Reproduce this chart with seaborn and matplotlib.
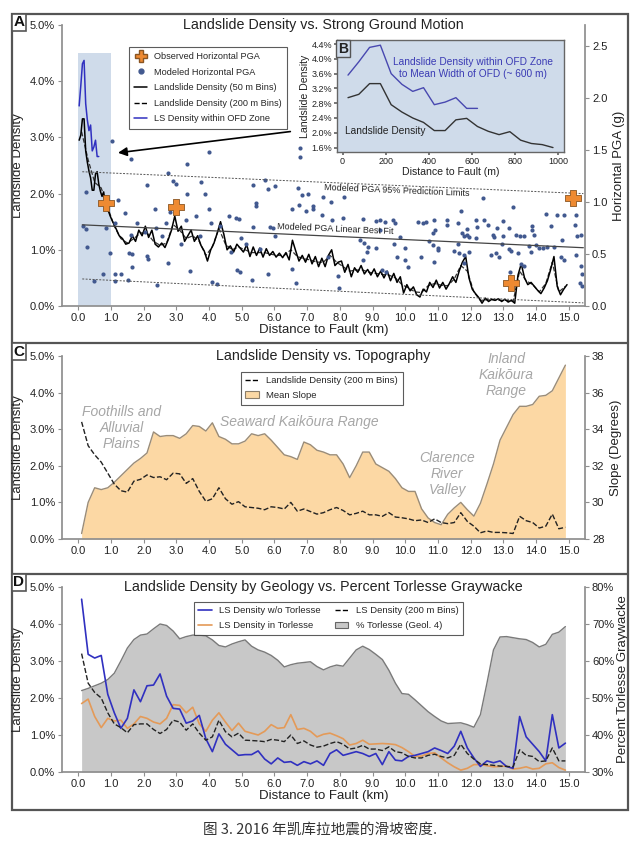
import numpy as np
import matplotlib
matplotlib.use('Agg')
import matplotlib.pyplot as plt
from matplotlib.lines import Line2D
from matplotlib.patches import Patch, Rectangle
from matplotlib.ticker import FuncFormatter
import seaborn as sns

sns.set_theme(style='ticks')
plt.rcParams['font.family'] = ['Liberation Sans', 'Noto Sans CJK SC', 'DejaVu Sans']

# ---------------- data ----------------
# 200 m bin centres (km)
bins_200 = np.round(np.arange(0.1, 15.0, 0.2), 1)

# landslide density, 200 m bins (%) as drawn in panels A, C and D
ls_200_a = [3.1, 2.6, 2.2, 2.1, 1.75, 1.42, 1.2, 1.12, 1.2, 1.3,
            1.3, 1.15, 1.08, 1.12, 1.45, 1.35, 1.2, 1.25, 1.15, 0.9,
            1.05, 1.38, 1.1, 1.0, 1.05, 1.0, 0.95, 0.95, 0.95, 0.92,
            0.9, 0.9, 1.0, 0.88, 0.84, 0.82, 0.78, 0.78, 0.9, 0.78,
            0.7, 0.62, 0.64, 0.64, 0.6, 0.58, 0.56, 0.55, 0.5, 0.38,
            0.32, 0.25, 0.24, 0.36, 0.4, 0.37, 0.36, 0.48, 0.72, 0.62,
            0.25, 0.1, 0.11, 0.11, 0.1, 0.1, 0.08, 0.62, 0.45, 0.38,
            0.25, 0.4, 0.78, 0.25, 0.35]
ls_200_c = [3.2, 2.55, 2.3, 2.1, 1.8, 1.5, 1.32, 1.28, 1.58, 1.63,
            1.75, 1.68, 1.70, 1.62, 1.80, 1.78, 1.52, 1.65, 1.30, 1.03,
            1.10, 1.40, 1.10, 0.95, 1.02, 0.88, 0.86, 0.84, 0.80, 0.88,
            0.86, 0.82, 1.00, 0.76, 0.82, 0.75, 0.68, 0.72, 0.80, 0.86,
            0.78, 0.66, 0.70, 0.76, 0.66, 0.66, 0.62, 0.72, 0.60, 0.58,
            0.55, 0.50, 0.52, 0.45, 0.55, 0.45, 0.42, 0.45, 0.72, 0.48,
            0.35, 0.17, 0.22, 0.18, 0.18, 0.17, 0.15, 0.62, 0.50, 0.45,
            0.30, 0.35, 0.68, 0.28, 0.32]
ls_200_d = [3.2, 2.4, 2.15, 2.0, 1.6, 1.3, 1.2, 1.06, 1.28, 1.3,
            1.3, 1.15, 1.04, 1.15, 1.4, 1.35, 1.13, 1.3, 1.05, 0.86,
            0.95, 1.4, 1.09, 0.95, 1.05, 0.86, 0.85, 0.84, 0.82, 0.88,
            0.86, 0.82, 1.0, 0.77, 0.84, 0.73, 0.67, 0.7, 0.77, 0.82,
            0.75, 0.62, 0.65, 0.72, 0.62, 0.62, 0.58, 0.68, 0.55, 0.52,
            0.42, 0.38, 0.38, 0.45, 0.48, 0.42, 0.38, 0.45, 0.75, 0.5,
            0.35, 0.22, 0.2, 0.18, 0.16, 0.15, 0.14, 0.6, 0.45, 0.42,
            0.28, 0.3, 0.65, 0.3, 0.3]

# landslide density, 50 m bins, first km (from inset B)
inset_m = [25, 75, 125, 175, 225, 275, 325, 375, 425, 475,
           525, 575, 625, 675, 725, 775, 825, 875, 925, 975]
ls_50_near = [2.95, 3.04, 3.33, 3.33, 2.76, 2.56, 2.40, 2.28, 2.06, 2.06,
              2.35, 2.39, 2.17, 2.04, 1.95, 2.03, 1.80, 1.71, 1.68, 1.60]
# landslide density within OFD zone (%)
ofd_m = [25, 75, 125, 175, 225, 275, 325, 375, 425, 475, 525, 575, 625]
ls_ofd = [3.56, 3.92, 4.31, 4.37, 3.60, 3.31, 3.12, 3.22, 2.76, 2.83, 2.95, 2.66, 2.66]

# landslide density, 50 m bins beyond 1 km (read every 0.1 km)
ls_50_far = [1.5, 1.38, 1.25, 1.2, 1.1, 1.12, 1.25, 1.15, 1.35, 1.25,
             1.42, 1.22, 1.35, 1.1, 1.05, 1.12, 1.04, 1.18, 1.35, 1.6,
             1.33, 1.42, 1.15, 1.25, 1.35, 1.15, 1.25, 1.08, 0.98, 0.8,
             1.0, 1.12, 1.3, 1.5, 1.28, 1.0, 1.07, 0.96, 1.1, 1.03,
             0.96, 1.09, 0.88, 1.05, 0.9, 1.03, 0.87, 1.02, 0.9, 0.97,
             0.87, 0.94, 0.86, 0.95, 0.82, 1.17, 0.98, 0.8, 0.9, 0.78,
             0.92, 0.75, 0.88, 0.7, 0.85, 0.7, 0.9, 1.0, 0.72, 0.78,
             0.8, 0.6, 0.74, 0.52, 0.68, 0.6, 0.72, 0.57, 0.65, 0.55,
             0.66, 0.52, 0.62, 0.5, 0.62, 0.45, 0.58, 0.42, 0.52, 0.23,
             0.38, 0.27, 0.34, 0.2, 0.16, 0.3, 0.25, 0.42, 0.33, 0.46,
             0.32, 0.42, 0.3, 0.4, 0.52, 0.42, 0.62, 0.78, 0.88, 0.5,
             0.3, 0.22, 0.15, 0.05, 0.14, 0.08, 0.12, 0.1, 0.13, 0.08,
             0.12, 0.07, 0.1, 0.05, 0.55, 0.75, 0.5, 0.38, 0.42, 0.35,
             0.28, 0.22, 0.32, 0.45, 0.65, 0.88, 0.35, 0.2, 0.3, 0.38]
far_km = np.round(1.05 + 0.1 * np.arange(len(ls_50_far)), 2)
km_50 = np.concatenate([np.array(inset_m) / 1000, far_km])
ls_50 = np.concatenate([ls_50_near, ls_50_far])

# modeled horizontal PGA (g)
dot_km = [1.04, 1.6, 4.0, 3.31, 2.75, 2.9, 3.0, 2.09, 3.76, 3.32, 3.87, 0.24, 1.2, 2.35,
          1.43, 2.79, 4.0, 3.3, 3.6, 4.05, 4.6, 4.81, 4.91, 0.15, 0.24, 0.84, 1.11, 1.8,
          2.37, 2.67, 2.57, 3.13, 3.72, 4.32, 1.6, 2.04, 0.25, 1.55, 1.65, 0.97, 2.09, 2.14,
          1.63, 2.74, 3.41, 0.76, 1.11, 1.32, 0.48, 1.12, 1.53, 2.42, 4.1, 4.25, 4.86, 4.94,
          4.66, 4.99,
          6.78, 6.78, 5.71, 5.35, 5.81, 6.01, 6.71, 6.85, 7.03, 7.49, 7.73, 8.13, 5.43, 5.43,
          6.76, 6.55, 7.19, 7.19, 6.96, 7.44, 7.75, 8.11, 8.72, 9.1, 9.22, 9.38, 9.64, 9.68,
          5.35, 5.86, 5.94, 6.03, 9.22, 9.83, 8.61, 8.75, 8.87, 9.12, 8.82, 9.66, 10.0, 9.76,
          9.99, 10.07, 8.72, 7.65, 7.95, 6.55, 5.79, 5.3, 6.66, 9.28, 9.4, 7.97, 5.13, 5.57,
          12.37, 13.3, 11.7, 14.3, 14.64, 14.86, 15.21, 10.89, 11.29, 12.16, 12.4, 12.98,
          10.4, 10.53, 10.63, 11.29, 11.6, 11.89, 12.21, 12.54, 12.82, 13.18, 13.89, 14.45,
          15.19, 10.9, 10.84, 11.75, 11.9, 11.8, 11.96, 12.16, 12.69, 12.72, 13.0, 13.38,
          13.52, 13.64, 13.89, 13.94, 15.27, 15.37, 10.73, 10.84, 10.99, 10.99, 11.6, 12.95,
          13.18, 13.25, 13.79, 14.0, 14.1, 14.2, 14.35, 14.56, 14.81, 11.5, 11.65, 11.8,
          11.96, 12.62, 12.77, 12.87, 13.44, 13.84, 14.76, 14.86, 15.22, 10.48, 10.87, 11.8,
          13.54, 13.62, 15.37, 15.42, 13.21, 15.35, 15.42]
dot_pga = [1.59, 1.41, 1.48, 1.36, 1.28, 1.20, 1.17, 1.16, 1.19, 1.08, 1.08, 1.10, 1.02, 0.93,
           0.89, 0.90, 0.93, 0.83, 0.86, 0.80, 0.86, 0.85, 0.84, 0.77, 0.74, 0.75, 0.80, 0.80,
           0.75, 0.80, 0.67, 0.60, 0.67, 0.77, 0.68, 0.71, 0.57, 0.51, 0.50, 0.51, 0.48, 0.45,
           0.37, 0.41, 0.34, 0.31, 0.31, 0.31, 0.24, 0.24, 0.25, 0.20, 0.23, 0.21, 0.35, 0.33,
           0.52, 0.65,
           1.52, 1.43, 1.21, 1.16, 1.12, 1.15, 1.13, 1.07, 1.08, 1.05, 1.00, 1.05, 0.99, 0.96,
           0.97, 0.93, 0.96, 0.93, 0.91, 0.875, 0.83, 0.85, 0.84, 0.82, 0.83, 0.81, 0.83, 0.80,
           0.76, 0.76, 0.75, 0.67, 0.73, 0.66, 0.63, 0.61, 0.57, 0.56, 0.52, 0.60, 0.56, 0.47,
           0.44, 0.37, 0.44, 0.47, 0.29, 0.36, 0.31, 0.25, 0.22, 0.35, 0.33, 0.17, 0.60, 0.55,
           1.04, 0.95, 0.91, 0.88, 0.87, 0.87, 0.87, 0.83, 0.83, 0.83, 0.83, 0.82,
           0.81, 0.80, 0.81, 0.78, 0.80, 0.74, 0.76, 0.78, 0.75, 0.75, 0.77, 0.77,
           0.78, 0.73, 0.70, 0.70, 0.68, 0.67, 0.66, 0.65, 0.68, 0.66, 0.67, 0.68,
           0.67, 0.67, 0.73, 0.68, 0.67, 0.68, 0.62, 0.59, 0.56, 0.54, 0.60, 0.60,
           0.55, 0.53, 0.58, 0.59, 0.56, 0.56, 0.57, 0.57, 0.63, 0.53, 0.51, 0.49,
           0.52, 0.49, 0.51, 0.47, 0.51, 0.52, 0.47, 0.44, 0.49, 0.47, 0.42, 0.41,
           0.40, 0.38, 0.38, 0.31, 0.33, 0.22, 0.19]
# observed horizontal PGA (g)
obs_km = [0.84, 2.98, 13.23, 15.12]
obs_pga = [0.99, 0.95, 0.22, 1.04]
# modeled PGA fit and 95% prediction limits (line end points)
fit_km = [0.12, 15.45]
pga_upper = [1.29, 1.08]
pga_fit = [0.78, 0.56]
pga_lower = [0.26, 0.03]

# mean slope (degrees), 200 m bins
slope_deg = [28.3, 30.0, 30.8, 30.7, 30.8, 31.1, 31.45, 31.8, 32.15, 32.4,
             32.7, 33.85, 33.6, 33.65, 33.65, 33.5, 33.75, 34.2, 34.15, 33.9,
             34.35, 33.6, 33.45, 33.2, 33.2, 33.35, 33.75, 33.65, 33.75, 33.4,
             33.0, 32.6, 32.5, 32.35, 33.3, 33.15, 32.85, 32.75, 32.6, 32.6,
             32.1, 31.35, 32.0, 32.75, 32.75, 32.1, 31.9, 31.7, 31.3, 30.8,
             30.6, 30.6, 29.65, 29.15, 28.9, 28.78, 29.35, 29.7, 30.0, 29.6,
             29.25, 29.95, 31.0, 32.1, 33.4, 34.1, 34.8, 35.25, 35.25, 35.35,
             35.8, 35.85, 36.1, 36.8, 37.5]

# percent Torlesse graywacke, 200 m bins
torlesse_pct = [52.0, 52.6, 53.3, 54.0, 55.0, 56.7, 60.0, 63.5, 65.8, 67.0,
                67.3, 68.7, 70.0, 69.6, 68.1, 66.0, 66.6, 67.0, 67.0, 66.8,
                65.7, 64.2, 63.8, 64.6, 65.2, 65.7, 64.0, 63.0, 62.4, 61.5,
                60.2, 58.4, 59.0, 59.4, 59.6, 59.8, 58.5, 57.6, 58.4, 58.9,
                58.6, 60.8, 63.0, 64.0, 63.1, 61.8, 60.4, 57.5, 54.0, 51.2,
                51.0, 49.5, 47.9, 46.3, 45.0, 43.8, 43.1, 43.2, 43.3, 42.8,
                42.1, 45.5, 54.0, 63.0, 66.5, 66.6, 66.3, 66.0, 65.8, 65.0,
                63.8, 64.5, 67.2, 67.8, 69.3]
# landslide density without / in Torlesse (%)
ls_wo_torlesse = [4.67, 3.18, 3.08, 3.15, 2.10, 1.60, 1.18, 1.45, 2.22, 1.90,
                  2.33, 2.35, 2.65, 2.05, 1.72, 1.70, 1.32, 1.38, 1.53, 0.90,
                  0.55, 1.03, 0.75, 0.60, 0.45, 0.47, 0.47, 0.57, 0.35, 0.22,
                  0.38, 0.26, 0.28, 0.18, 0.28, 0.22, 0.30, 0.18, 0.50, 0.60,
                  0.45, 0.50, 0.55, 0.50, 0.42, 0.50, 0.20, 0.55, 0.32, 0.30,
                  0.42, 0.45, 0.50, 0.55, 0.65, 0.58, 0.50, 0.70, 1.10, 0.65,
                  0.38, 0.15, 0.30, 0.25, 0.30, 0.15, 0.10, 1.50, 0.95, 0.75,
                  0.55, 0.30, 1.55, 0.65, 0.78]
ls_in_torlesse = [1.85, 1.97, 1.50, 1.20, 1.45, 1.38, 1.40, 1.18, 1.30, 1.50,
                  1.45, 1.35, 1.30, 1.45, 1.82, 1.80, 1.60, 1.75, 1.30, 1.10,
                  1.40, 1.60, 1.35, 1.12, 1.32, 1.10, 1.05, 1.00, 1.10, 1.28,
                  1.18, 1.20, 1.55, 1.15, 1.18, 1.10, 0.95, 1.02, 1.05, 0.98,
                  0.90, 0.73, 0.77, 0.86, 0.75, 0.76, 0.77, 0.76, 0.74, 0.66,
                  0.55, 0.42, 0.43, 0.50, 0.52, 0.38, 0.25, 0.14, 0.05, 0.10,
                  0.20, 0.20, 0.17, 0.14, 0.15, 0.16, 0.08, 0.10, 0.14, 0.08,
                  0.10, 0.22, 0.25, 0.12, 0.05]

km_ticks = np.arange(0, 16, 1)

# ---------------- colours ----------------
SPINE = '#8f8f8f'
OFD_BG = '#cfdbea'
DOT = '#42598f'
ORANGE = '#ee8a32'
BLUE = '#3030c0'
PEACH = '#fcd8a4'
GRAYFILL = '#c8c8c8'
NOTE = '#a6a6a6'
FRAME = '#555555'

W, H = 641, 851
fig = plt.figure(figsize=(W / 100, H / 100), dpi=100)


def px_axes(left, top, right, bottom):
    return fig.add_axes([left / W, 1 - bottom / H, (right - left) / W, (bottom - top) / H])


def style(ax, twin):
    ax.spines['top'].set_visible(False)
    ax.spines['right'].set_visible(False)
    ax.spines['left'].set_color(SPINE)
    ax.spines['bottom'].set_color(SPINE)
    twin.spines['top'].set_visible(False)
    twin.spines['left'].set_visible(False)
    twin.spines['bottom'].set_visible(False)
    twin.spines['right'].set_color(SPINE)
    for a in (ax, twin):
        a.tick_params(colors=SPINE, labelcolor='#222222', labelsize=8, length=3,
                      width=0.8, pad=2, direction='out')
    ax.set_xlim(-0.5, 15.5)
    ax.set_xticks(km_ticks)
    ax.set_xticklabels([f'{k:.1f}' for k in km_ticks])
    ax.set_ylim(0, 5)
    ax.set_yticks(np.arange(0, 5.1, 1))
    ax.yaxis.set_major_formatter(FuncFormatter(lambda v, p: f'{v:.1f}%'))
    ax.set_ylabel('Landslide Density', fontsize=9.5, labelpad=4, color='#222222')
    ax.grid(False)
    twin.grid(False)


# ---------------- panel A ----------------
axA = px_axes(62, 25, 585, 306)
axA2 = axA.twinx()
style(axA, axA2)
axA.fill_between([0, 1], 0, 4.5, color=OFD_BG, lw=0)
sns.lineplot(x=bins_200, y=ls_200_a, ax=axA, color='#333333', lw=0.9, linestyle='--')
sns.lineplot(x=km_50, y=ls_50, ax=axA, color='black', lw=1.1)
sns.lineplot(x=np.array(ofd_m) / 1000, y=ls_ofd, ax=axA, color=BLUE, lw=1.1)
axA.set_xlabel('Distance to Fault (km)', fontsize=9.5, labelpad=1, color='#222222')

sns.scatterplot(x=dot_km, y=dot_pga, ax=axA2, color=DOT, s=9, linewidth=0)
for yy in (pga_upper, pga_lower):
    sns.lineplot(x=fit_km, y=yy, ax=axA2, color='#555555', lw=0.7, linestyle=(0, (2, 1.5)))
sns.lineplot(x=fit_km, y=pga_fit, ax=axA2, color='#444444', lw=0.9)
sns.scatterplot(x=obs_km, y=obs_pga, ax=axA2, marker='P', s=120, color=ORANGE,
                edgecolor='#8a5522', linewidth=0.6, zorder=5)
axA2.set_ylim(0, 2.7)
axA2.set_yticks([0, 0.5, 1.0, 1.5, 2.0, 2.5])
axA2.yaxis.set_major_formatter(FuncFormatter(lambda v, p: f'{v:.1f}'))
axA2.set_ylabel('Horizontal PGA (g)', fontsize=9.5, labelpad=4, color='#222222')
axA2.text(9.75, 1.105, 'Modeled PGA 95% Prediction Limits', fontsize=6.5, rotation=-2.4,
          ha='center', va='center', color='#222222')
axA2.text(7.86, 0.735, 'Modeled PGA Linear Best Fit', fontsize=6.5, rotation=-2.5,
          ha='center', va='center', color='#222222')
axA2.annotate('', xy=(1.13, 2.72), xycoords=axA.transData, xytext=(6.57, 3.11),
              textcoords=axA.transData,
              arrowprops=dict(arrowstyle='-|>', color='black', lw=1.2, mutation_scale=13))
axA.text(0.5, 1.0, 'Landslide Density vs. Strong Ground Motion', transform=axA.transAxes,
         ha='center', va='center', fontsize=10.3, color='#222222')

handlesA = [Line2D([], [], marker='P', ls='', color=ORANGE, mec='#8a5522', ms=8),
            Line2D([], [], marker='o', ls='', color=DOT, ms=3.5),
            Line2D([], [], color='black', lw=1.1),
            Line2D([], [], color='black', lw=1.0, ls='--'),
            Line2D([], [], color=BLUE, lw=1.1)]
labelsA = ['Observed Horizontal PGA', 'Modeled Horizontal PGA', 'Landslide Density (50 m Bins)',
           'Landslide Density (200 m Bins)', 'LS Density within OFD Zone']
legA = axA2.legend(handlesA, labelsA, loc='upper left', bbox_to_anchor=(124 / W, 1 - 42 / H),
                   bbox_transform=fig.transFigure, fontsize=6.6, frameon=True, fancybox=False,
                   edgecolor='#333333', handlelength=1.4, labelspacing=0.72, borderpad=0.6)
legA.get_frame().set_linewidth(0.8)

# inset B
axB = px_axes(337, 40, 564, 152)
axB.set_facecolor(OFD_BG)
sns.lineplot(x=ofd_m, y=ls_ofd, ax=axB, color='#4848b0', lw=1.0)
sns.lineplot(x=inset_m, y=ls_50_near, ax=axB, color='#333333', lw=1.0)
axB.set_xlim(-26, 1026)
axB.set_ylim(1.48, 4.51)
axB.set_xticks(np.arange(0, 1001, 200))
axB.set_yticks(np.arange(1.6, 4.5, 0.4))
axB.yaxis.set_major_formatter(FuncFormatter(lambda v, p: f'{v:.1f}%'))
for s in axB.spines.values():
    s.set_color('#666666')
    s.set_linewidth(1.0)
axB.tick_params(colors='#666666', labelcolor='#222222', labelsize=6.5, length=2, pad=1.5)
axB.set_xlabel('Distance to Fault (m)', fontsize=7.6, labelpad=1, color='#222222')
axB.set_ylabel('Landslide Density', fontsize=7.6, labelpad=1, color='#222222')
axB.grid(False)
axB.text(604, 3.75, 'Landslide Density within OFD Zone\nto Mean Width of OFD (~ 600 m)',
         ha='center', va='center', fontsize=7.3, color='#3a3ab4')
axB.text(10, 2.06, 'Landslide Density', ha='left', va='center', fontsize=7.3, color='#222222')
axB.text(0.004, 0.985, 'B', transform=axB.transAxes, ha='left', va='top', fontsize=10,
         fontweight='bold', color='#222222',
         bbox=dict(boxstyle='square,pad=0.12', fc=OFD_BG, ec='#555555', lw=1.0))

# ---------------- panel C ----------------
axC = px_axes(62, 356, 585, 539)
axC2 = axC.twinx()
style(axC, axC2)
axC2.fill_between(bins_200, 28, slope_deg, color=PEACH, lw=0)
sns.lineplot(x=bins_200, y=slope_deg, ax=axC2, color='#9a8c78', lw=1.0)
axC2.set_ylim(28, 38)
axC2.set_yticks(np.arange(28, 39, 2))
axC2.set_ylabel('Slope (Degrees)', fontsize=9.5, labelpad=4, color='#222222')
axC.set_zorder(axC2.get_zorder() + 1)
axC.patch.set_visible(False)
sns.lineplot(x=bins_200, y=ls_200_c, ax=axC, color='#222222', lw=1.0, linestyle='--')
axC.set_xlabel('')
axC.text(0.5, 1.0, 'Landslide Density vs. Topography', transform=axC.transAxes,
         ha='center', va='center', fontsize=10.3, color='#222222')
note = dict(fontsize=10, style='italic', color=NOTE, ha='center', va='center', linespacing=1.15)
axC.text(1.32, 3.03, 'Foothills and\nAlluvial\nPlains', **note)
axC.text(6.76, 3.2, 'Seaward Kaikōura Range', **note)
axC.text(11.28, 1.78, 'Clarence\nRiver\nValley', **note)
axC.text(13.1, 4.48, 'Inland\nKaikōura\nRange', **note)
legC = axC.legend([Line2D([], [], color='black', lw=1.0, ls='--'),
                   Patch(fc=PEACH, ec='#8c7e6a', lw=0.8)],
                  ['Landslide Density (200 m Bins)', 'Mean Slope'],
                  loc='upper left', bbox_to_anchor=(236 / W, 1 - 367 / H),
                  bbox_transform=fig.transFigure, fontsize=6.8, fancybox=False,
                  edgecolor='#333333', handlelength=1.4, labelspacing=0.6, borderpad=0.5)
legC.get_frame().set_linewidth(0.8)

# ---------------- panel D ----------------
axD = px_axes(62, 587, 585, 772)
axD2 = axD.twinx()
style(axD, axD2)
axD2.fill_between(bins_200, 30, torlesse_pct, color=GRAYFILL, lw=0)
sns.lineplot(x=bins_200, y=torlesse_pct, ax=axD2, color='#7a7a7a', lw=1.0)
axD2.set_ylim(30, 80)
axD2.set_yticks(np.arange(30, 81, 10))
axD2.yaxis.set_major_formatter(FuncFormatter(lambda v, p: f'{v:.0f}%'))
axD2.set_ylabel('Percent Torlesse Graywacke', fontsize=9.5, labelpad=2, color='#222222')
axD.set_zorder(axD2.get_zorder() + 1)
axD.patch.set_visible(False)
sns.lineplot(x=bins_200, y=ls_in_torlesse, ax=axD, color='#e49a58', lw=1.2)
sns.lineplot(x=bins_200, y=ls_wo_torlesse, ax=axD, color=BLUE, lw=1.2)
sns.lineplot(x=bins_200, y=ls_200_d, ax=axD, color='#222222', lw=1.0, linestyle='--')
axD.set_xlabel('Distance to Fault (km)', fontsize=9.5, labelpad=1, color='#222222')
axD.text(0.5, 1.0, 'Landslide Density by Geology vs. Percent Torlesse Graywacke',
         transform=axD.transAxes, ha='center', va='center', fontsize=10.3, color='#222222')
legD = axD.legend([Line2D([], [], color=BLUE, lw=1.2),
                   Line2D([], [], color='#e49a58', lw=1.2),
                   Line2D([], [], color='black', lw=1.0, ls='--'),
                   Patch(fc=GRAYFILL, ec='#666666', lw=0.8)],
                  ['LS Density w/o Torlesse', 'LS Density in Torlesse',
                   'LS Density (200 m Bins)', '% Torlesse (Geol. 4)'],
                  ncol=2, loc='upper left', bbox_to_anchor=(189 / W, 1 - 597 / H),
                  bbox_transform=fig.transFigure, fontsize=6.8, fancybox=False,
                  edgecolor='#333333', handlelength=1.4, labelspacing=0.6, borderpad=0.5,
                  columnspacing=1.5)
legD.get_frame().set_linewidth(0.8)

# ---------------- frame, panel letters, caption ----------------
fig.add_artist(Rectangle((12 / W, 1 - 810 / H), (628 - 12) / W, (810 - 14) / H,
                         transform=fig.transFigure, fill=False, ec=FRAME, lw=1.6))
for yy in (343, 574):
    fig.add_artist(Line2D([12 / W, 628 / W], [1 - yy / H] * 2, transform=fig.transFigure,
                          color=FRAME, lw=1.6))
for letter, top in (('A', 14), ('C', 343), ('D', 574)):
    fig.text(13.5 / W, 1 - (top + 1.5) / H, letter, ha='left', va='top', fontsize=11,
             fontweight='bold', color='#111111',
             bbox=dict(boxstyle='square,pad=0.12', fc='white', ec=FRAME, lw=1.2))

fig.text(0.5, 1 - 830 / H, '图 3. 2016 年凯库拉地震的滑坡密度.', ha='center', va='center',
         fontsize=10.5, color='#333333', family=['Noto Sans CJK SC', 'DejaVu Sans'])

fig.savefig('out.png', dpi=100)
